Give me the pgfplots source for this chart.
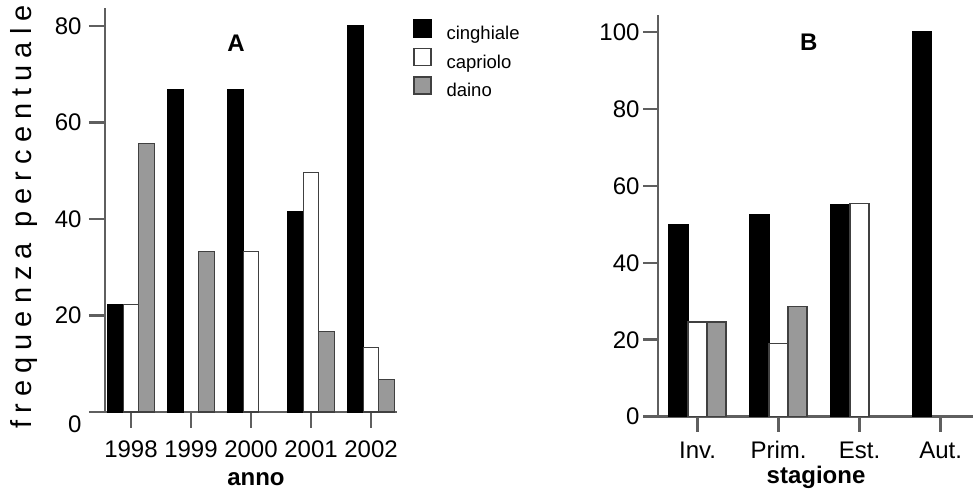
\documentclass[border=0pt]{standalone}
\usepackage{fontspec}
\setmainfont{Liberation Sans}
\usepackage{pgfplots}
\pgfplotsset{compat=1.18}
\definecolor{axgray}{RGB}{95,95,95}
\definecolor{bargray}{RGB}{153,153,153}
\pgfplotsset{
  mybase/.style={
    scale only axis, enlargelimits=false,
    axis x line=bottom, axis y line=left,
    axis line style={-, draw=axgray, line width=2.5pt},
    tick style={draw=axgray, line width=2.5pt},
    tick align=outside,
    major tick length=16pt,
    ymin=0,
    ybar=0pt,
    clip=false,
    tick label style={font=\fontsize{24}{28}\selectfont},
    xlabel style={font=\fontsize{24}{28}\selectfont\bfseries, anchor=base},
    title style={font=\fontsize{24}{28}\selectfont\bfseries, anchor=center},
    every axis plot post/.append style={
      legend image code/.code={\draw[##1, line width=1.5pt] (0pt,-2pt) rectangle (17pt,15pt); \path (32pt,0pt);}},
  },
  cing/.style={fill=black, draw=black, line width=1.2pt},
  capr/.style={fill=white, draw=black!75, line width=1.2pt},
  dain/.style={fill=bargray, draw=black!75, line width=1.2pt},
}
\begin{document}
\begin{tikzpicture}
\path[use as bounding box] (0pt,0pt) rectangle (973pt,492pt);
% Panel A
\begin{axis}[mybase,
  at={(105pt,80pt)}, anchor=south west,
  width=292pt, height=404pt,
  xmin=-0.433, xmax=4.433, ymax=83.7,
  bar width=15.5pt,
  xtick={0,1,2,3,4}, xticklabels={1998,1999,2000,2001,2002},
  xticklabel style={yshift=-9pt, text height=17pt, text depth=0pt},
  ytick={0,20,40,60,80}, yticklabels={\raisebox{-12pt}[\height][\depth]{0},20,40,60,80},
  yticklabel style={xshift=-4pt},
  xlabel={anno}, xlabel style={at={(axis description cs:0.517,-0.181)}},
  ylabel={frequenza percentuale},
  ylabel style={at={(axis description cs:-0.25,0.483)}, anchor=base,
    font=\fontsize{29}{34}\selectfont\addfontfeatures{LetterSpace=24.5}},
  title={A}, title style={at={(0.449,0.897)}},
  legend style={at={(1.0548,0.973)}, anchor=north west, draw=none, fill=none,
    inner sep=0pt, row sep=4pt, legend cell align=left,
    font=\fontsize{18.5}{22}\selectfont,
    nodes={inner sep=0pt, text height=13.5pt, text depth=4pt}},
]
\addplot[cing] coordinates {(0,22.2) (1,66.7) (2,66.7) (3,41.6) (4,80)};
\addlegendentry{cinghiale}
\addplot[capr] coordinates {(0,22.2) (2,33.3) (3,49.7) (4,13.3)};
\addlegendentry{capriolo}
\addplot[dain] coordinates {(0,55.6) (1,33.3) (3,16.7) (4,6.7)};
\addlegendentry{daino}
\end{axis}
% Panel B
\begin{axis}[mybase,
  at={(658pt,75.3pt)}, anchor=south west,
  width=315pt, height=401.7pt,
  xmin=-0.488, xmax=3.40, ymax=104.4,
  bar width=19pt,
  major tick length=15pt,
  xtick={0,1,2,3}, xticklabels={Inv.,Prim.,Est.,Aut.},
  xticklabel style={yshift=-6pt, text height=17pt, text depth=0pt},
  ytick={0,20,40,60,80,100}, yticklabels={0,20,40,60,80,100},
  xlabel={stagione}, xlabel style={at={(axis description cs:0.5016,-0.1675)}},
  title={B}, title style={at={(0.479,0.917)}},
]
\addplot[cing] coordinates {(0,49.8) (1,52.4) (2,55.2) (3,100)};
\addplot[capr] coordinates {(0,24.6) (1,19.0) (2,55.4)};
\addplot[dain] coordinates {(0,24.6) (1,28.6)};
\end{axis}
\end{tikzpicture}
\end{document}
